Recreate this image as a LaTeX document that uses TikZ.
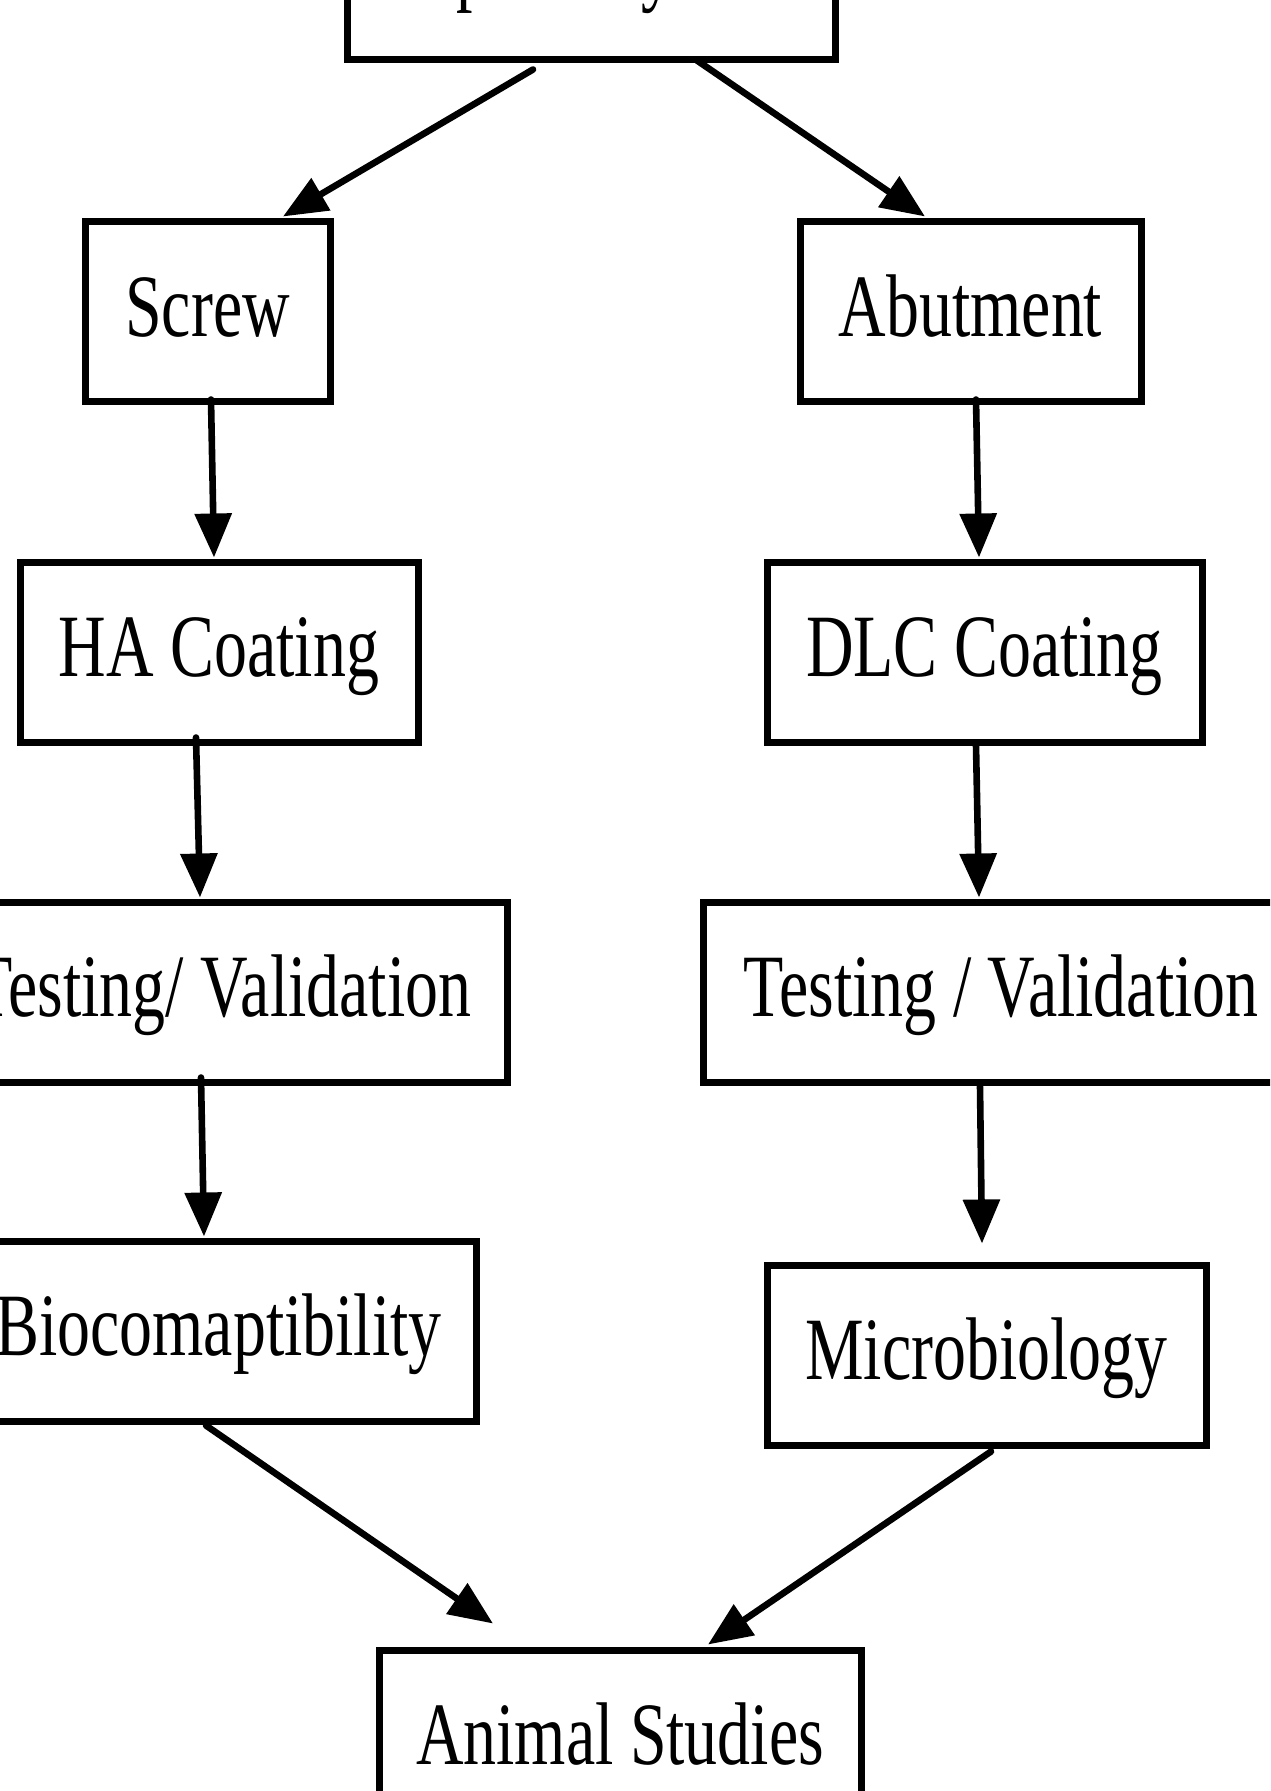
\documentclass[tikz,border=0pt]{standalone}
\usepackage{fontspec}
\setmainfont{Liberation Serif}[FakeStretch=0.74]
\usepackage{tikz}
\usetikzlibrary{arrows.meta}

\begin{document}
\begin{tikzpicture}[x=0.5pt, y=-0.5pt,
    box/.style={draw, line width=3.5pt, inner sep=0pt, minimum height=90pt,
                text height=33.4pt, text depth=8.9pt,
                font=\fontsize{44.5}{50}\selectfont},
    arr/.style={line width=3.3pt, line cap=round, -{Triangle[width=18pt, length=22pt]}}]
    \useasboundingbox (0,0) rectangle (1270,1791);
    \clip (0,0) rectangle (1270,1791);

    \node [box, minimum width=244pt] (sys) at (591,-30) {Implant System};

    % screw side
    \node [box, minimum width=122.5pt] (screw) at (207.5,312) {Screw};
    \node [box, minimum width=199pt] (ha) at (219,652) {HA Coating};
    \node [box, minimum width=285pt] (testl) at (222,992) {Testing/ Validation};
    \node [box, minimum width=257.5pt] (bio) at (218.5,1331) {Biocomaptibility};

    % abutment side
    \node [box, minimum width=170.5pt] (abut) at (970.5,312) {Abutment};
    \node [box, minimum width=217.5pt] (dlc) at (984.5,652) {DLC Coating};
    \node [box, minimum width=298pt] (testr) at (1001,992) {Testing / Validation};
    \node [box, minimum width=219.5pt] (micro) at (986.5,1355) {Microbiology};

    \node [box, minimum width=241pt] (animal) at (620,1740) {Animal Studies};

    \draw [arr] ([shift={(-58,6)}]sys.south) -- ([shift={(75.5,-2)}]screw.north);
    \draw [arr] ([shift={(106,-3)}]sys.south) -- ([shift={(-45.5,-2)}]abut.north);

    \draw [arr] ([shift={(3.5,-6)}]screw.south) -- ([shift={(-5,-1)}]ha.north);
    \draw [arr] ([shift={(-23,-8)}]ha.south) -- ([shift={(-22,-1)}]testl.north);
    \draw [arr] ([shift={(-21,-8)}]testl.south) -- ([shift={(-14.5,-1)}]bio.north);

    \draw [arr] ([shift={(5.5,-6)}]abut.south) -- ([shift={(-5.5,-1)}]dlc.north);
    \draw [arr] ([shift={(-8.5,0)}]dlc.south) -- ([shift={(-22,-1)}]testr.north);
    \draw [arr] ([shift={(-21,1)}]testr.south) -- ([shift={(-4.5,-18)}]micro.north);

    \draw [arr] ([shift={(-12.5,1)}]bio.south) -- ([shift={(-127,-23)}]animal.north);
    \draw [arr] ([shift={(4.5,3)}]micro.south) -- ([shift={(88,-2)}]animal.north);
\end{tikzpicture}
\end{document}
